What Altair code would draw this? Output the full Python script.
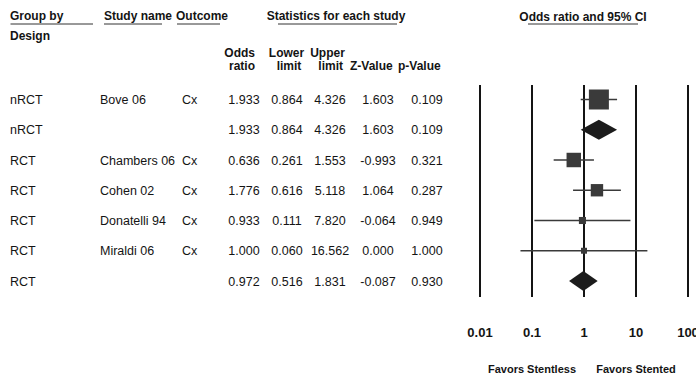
import altair as alt
import numpy as np
import pandas as pd

# ---- table data -------------------------------------------------------
groups = ["nRCT", "nRCT", "RCT", "RCT", "RCT", "RCT", "RCT"]
studies = ["Bove 06", "", "Chambers 06", "Cohen 02", "Donatelli 94", "Miraldi 06", ""]
outcomes = ["Cx", "", "Cx", "Cx", "Cx", "Cx", ""]
odds_ratio = [1.933, 1.933, 0.636, 1.776, 0.933, 1.000, 0.972]
lower = [0.864, 0.864, 0.261, 0.616, 0.111, 0.060, 0.516]
upper = [4.326, 4.326, 1.553, 5.118, 7.820, 16.562, 1.831]
z_value = [1.603, 1.603, -0.993, 1.064, -0.064, 0.000, -0.087]
p_value = [0.109, 0.109, 0.321, 0.287, 0.949, 1.000, 0.930]
is_summary = [False, True, False, False, False, False, True]

axis_ticks = [0.01, 0.1, 1, 10, 100]
tick_labels = ["0.01", "0.1", "1", "10", "100"]
favors_text = ["Favors Stentless", "Favors Stented"]
favors_at = [0.1, 10]

FONT = "Liberation Sans"
INK = "#141414"

df = pd.DataFrame({
    "row": np.arange(len(groups)),
    "group": groups,
    "study": studies,
    "outcome": outcomes,
    "or": odds_ratio,
    "lo": lower,
    "hi": upper,
    "summary": is_summary,
})
for col, vals in [("or_s", odds_ratio), ("lo_s", lower), ("hi_s", upper),
                  ("z_s", z_value), ("p_s", p_value)]:
    df[col] = [f"{v:.3f}" for v in vals]

# inverse-variance weight from the CI, relative within each design group
se = (np.log(df["hi"]) - np.log(df["lo"])) / (2 * 1.959964)
df["w"] = 1.0 / se ** 2
studies_df = df[~df["summary"]].copy()
studies_df["rel_w"] = studies_df["w"] / studies_df.groupby("group")["w"].transform("sum")
summary_df = df[df["summary"]]

# diamond outlines for the pooled estimates
HALF_H = 0.33
diamond_rows = []
for _, r in summary_df.iterrows():
    diamond_rows += [
        {"key": r["group"], "x": r["lo"], "y1": r["row"], "y2": r["row"]},
        {"key": r["group"], "x": r["or"], "y1": r["row"] - HALF_H, "y2": r["row"] + HALF_H},
        {"key": r["group"], "x": r["hi"], "y1": r["row"], "y2": r["row"]},
    ]
diamonds = pd.DataFrame(diamond_rows)

ticks_df = pd.DataFrame({"t": axis_ticks, "label": tick_labels})
favors_df = pd.DataFrame({"t": favors_at, "label": favors_text})

xscale = alt.Scale(type="log", domain=[0.01, 100], range=[480, 688])
yscale = alt.Scale(domain=[0, 6], range=[99.5, 281])


def X(field):
    return alt.X(field, scale=xscale, axis=None)


def Y(field):
    return alt.Y(field, scale=yscale, axis=None)


one = pd.DataFrame({"k": [0]})


def label(text, x, y, align="left", bold=True, size=12):
    return alt.Chart(one).mark_text(
        text=text, align=align, baseline="alphabetic", font=FONT,
        fontSize=size, fontWeight="bold" if bold else "normal", color=INK,
    ).encode(x=alt.value(x), y=alt.value(y))


def underline(x1, x2, y=24):
    return alt.Chart(one).mark_rule(color="#333333", strokeWidth=1).encode(
        x=alt.value(x1), x2=alt.value(x2), y=alt.value(y))


# ---- header block -----------------------------------------------------
headers = [
    label("Group by", 10, 20), label("Design", 10, 39.5),
    label("Study name", 104, 20), label("Outcome", 176, 20),
    label("Statistics for each study", 336, 20, align="center"),
    label("Odds ratio and 95% CI", 583, 20.5, align="center"),
    label("Odds", 255, 57, align="right"), label("ratio", 255, 70, align="right"),
    label("Lower", 286.5, 57, align="center"), label("limit", 289, 70, align="center"),
    label("Upper", 327.5, 57, align="center"), label("limit", 343, 70, align="right"),
    label("Z-Value", 350, 70), label("p-Value", 398, 70),
    underline(10.5, 93), underline(104, 162), underline(177, 220),
    underline(278, 397), underline(528, 638),
]


# ---- table columns ----------------------------------------------------
def column(field, x, align):
    return alt.Chart(df).mark_text(
        align=align, baseline="alphabetic", dy=4.5, font=FONT,
        fontSize=12.5, color=INK,
    ).encode(x=alt.value(x), y=Y("row:Q"), text=f"{field}:N")


table = [
    column("group", 10, "left"),
    column("study", 100, "left"),
    column("outcome", 182, "left"),
    column("or_s", 244, "center"),
    column("lo_s", 287, "center"),
    column("hi_s", 330, "center"),
    column("z_s", 378, "center"),
    column("p_s", 427, "center"),
]

# ---- forest plot ------------------------------------------------------
guides = alt.Chart(ticks_df).mark_rule(color=INK, strokeWidth=2).encode(
    x=X("t:Q"), y=alt.value(85), y2=alt.value(297))

tick_text = alt.Chart(ticks_df).mark_text(
    baseline="alphabetic", font=FONT, fontSize=13, fontWeight="bold", color=INK,
).encode(x=X("t:Q"), y=alt.value(336.5), text="label:N")

favors = alt.Chart(favors_df).mark_text(
    baseline="alphabetic", font=FONT, fontSize=11, fontWeight="bold", color=INK,
).encode(x=X("t:Q"), y=alt.value(373), text="label:N")

ci = alt.Chart(studies_df).mark_rule(color="#3a3a3a", strokeWidth=1.5).encode(
    x=X("lo:Q"), x2="hi:Q", y=Y("row:Q"))

boxes = alt.Chart(studies_df).mark_square(
    color="#3a3a3a", opacity=1, filled=True).encode(
    x=X("or:Q"), y=Y("row:Q"),
    size=alt.Size("rel_w:Q", scale=alt.Scale(domain=[0, 1], range=[16, 400]),
                  legend=None))

pooled = alt.Chart(diamonds).mark_area(
    color="#1c1c1c", opacity=1, orient="vertical").encode(
    x=X("x:Q"), y=Y("y1:Q"), y2="y2:Q", detail="key:N")

chart = alt.layer(
    guides, ci, boxes, pooled, tick_text, favors, *table, *headers
).properties(
    width=696, height=377, padding=0,
    autosize=alt.AutoSizeParams(type="none"),
    background="white",
).configure_view(stroke=None)

chart.save("out.html", embed_options={"renderer": "svg", "actions": False})
